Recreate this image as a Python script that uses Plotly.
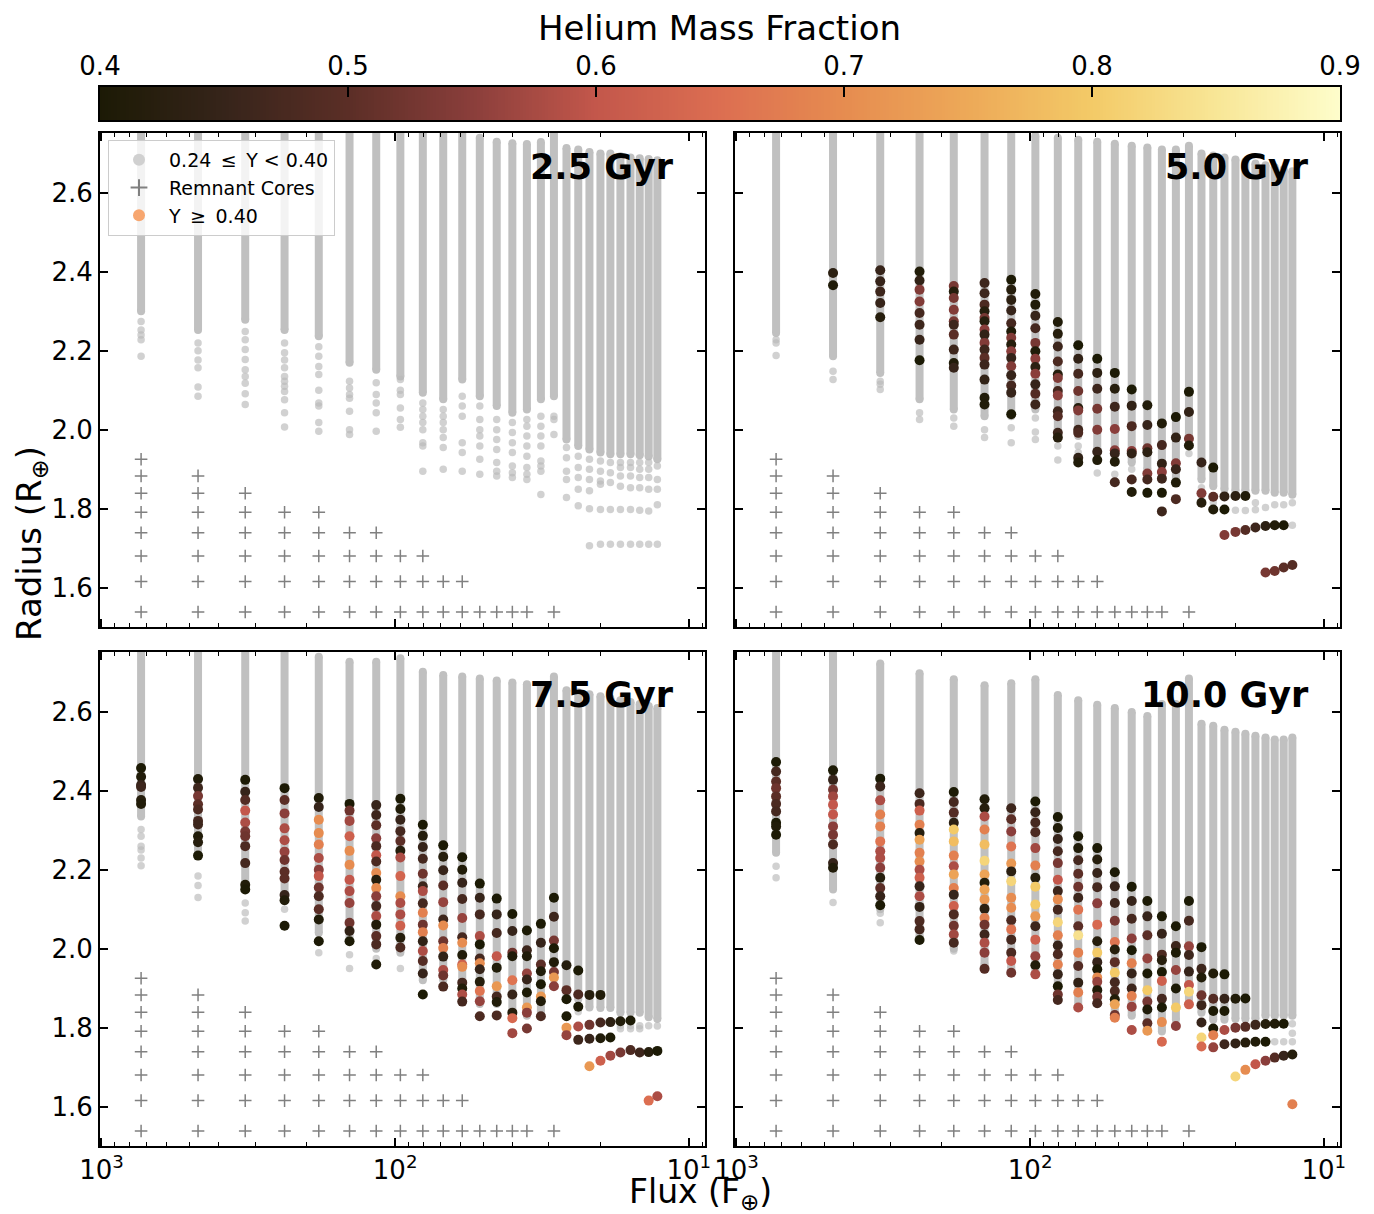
import numpy as np
import plotly.graph_objects as go

W, H = 1374, 1214
FONT = "DejaVu Sans"
OFF = 8  # page offset of the plot div inside the browser window


def PX(p):
    return (p - OFF) / W


def PY(p):
    return 1 - (p - OFF) / H


# ---------------- data ----------------
flux = [733, 469, 324, 238, 182, 143, 116, 96.0, 80.5, 68.6, 59.1, 51.5, 45.1, 39.9,
        35.6, 31.9, 28.8, 26.1, 23.8, 21.8, 20.0, 18.5, 17.1, 15.8, 14.7, 13.7, 12.8]

ages = ["2.5 Gyr", "5.0 Gyr", "7.5 Gyr", "10.0 Gyr"]

# grey (0.24 <= Y < 0.40) model columns: top / bottom of dense run, plus sparse points below
grey_top_25 = [2.8] * 11 + [2.74, 2.73, 2.726, 2.724, 2.729, 2.8, 2.714, 2.71, 2.704, 2.70, 2.70,
                            2.693, 2.69, 2.688, 2.686, 2.683]
grey_bot_25 = [2.30, 2.253, 2.279, 2.253, 2.237, 2.17, 2.152, 2.135, 2.094, 2.077, 2.127, 2.085,
               2.06, 2.043, 2.051, 2.077, 2.085, 1.975, 1.959, 1.95, 1.942, 1.938, 1.938, 1.938,
               1.935, 1.932, 1.925]
grey_sparse_25 = [
    [2.274, 2.253, 2.24, 2.228, 2.186],
    [2.22, 2.20, 2.177, 2.157, 2.108, 2.085],
    [2.249, 2.228, 2.203, 2.178, 2.152, 2.135, 2.118, 2.091, 2.064],
    [2.22, 2.195, 2.177, 2.157, 2.135, 2.123, 2.11, 2.097, 2.076, 2.043, 2.007],
    [2.21, 2.186, 2.16, 2.14, 2.10, 2.068, 2.06, 2.018, 1.996],
    [2.123, 2.106, 2.089, 2.08, 2.047, 2.0, 1.988],
    [2.119, 2.089, 2.068, 2.043, 1.996],
    [2.127, 2.10, 2.089, 2.055, 2.026, 2.006],
    [2.068, 2.051, 2.034, 2.018, 2.0, 1.967, 1.959, 1.895],
    [2.051, 2.034, 2.018, 2.0, 1.98, 1.955, 1.90],
    [2.085, 2.06, 2.034, 1.967, 1.942, 1.895],
    [2.06, 2.026, 2.0, 1.984, 1.959, 1.925, 1.887],
    [2.026, 2.0, 1.975, 1.95, 1.917, 1.895, 1.883],
    [2.018, 1.993, 1.967, 1.942, 1.908, 1.891, 1.879],
    [2.026, 2.009, 1.984, 1.959, 1.933, 1.904, 1.887, 1.874],
    [2.034, 2.009, 1.984, 1.959, 1.921, 1.908, 1.895, 1.836],
    [2.034, 2.026, 1.988],
    [1.955, 1.929, 1.895, 1.874, 1.828],
    [1.933, 1.904, 1.879, 1.849, 1.807],
    [1.925, 1.90, 1.874, 1.845, 1.80, 1.706],
    [1.921, 1.895, 1.87, 1.862, 1.798, 1.71],
    [1.917, 1.891, 1.866, 1.798, 1.71],
    [1.917, 1.904, 1.883, 1.857, 1.798, 1.71],
    [1.917, 1.904, 1.883, 1.853, 1.798, 1.71],
    [1.917, 1.90, 1.879, 1.853, 1.796, 1.71],
    [1.917, 1.90, 1.879, 1.849, 1.794, 1.71],
    [1.908, 1.874, 1.849, 1.81, 1.71],
]

grey_top_50 = [2.8] * 7 + [2.745, 2.74, 2.735, 2.73, 2.725, 2.72, 2.715, 2.71, 2.71, 2.72, 2.70,
                           2.695, 2.69, 2.685, 2.68, 2.675, 2.67, 2.665, 2.66, 2.655]
grey_bot_50 = [2.245, 2.186, 2.144, 2.077, 2.051, 2.034, 2.034, 2.051, 2.0, 1.984, 1.95, 1.933,
               1.917, 1.90, 1.883, 1.87, 1.984, 1.874, 1.857, 1.849, 1.845, 1.845, 1.845, 1.845,
               1.84, 1.84, 1.835]
grey_sparse_50 = [
    [2.228, 2.22, 2.188], [2.148, 2.127], [2.123, 2.115, 2.102], [2.043, 2.026], [2.03, 2.009],
    [2.0, 1.98], [2.005, 1.967], [2.03, 1.994, 1.975], [1.959, 1.923], [1.959, 1.942], [1.89],
    [1.887], [1.90], [], [], [], [1.96, 1.94], [1.853, 1.832], [1.815], [], [1.796], [1.795],
    [1.815, 1.797], [1.803], [1.81], [1.81], [1.815, 1.758],
]

grey_top_75 = [2.8] * 4 + [2.74, 2.727, 2.727, 2.736, 2.702, 2.694, 2.69, 2.685, 2.68, 2.675,
                           2.67, 2.665, 2.69, 2.655, 2.65, 2.645, 2.64, 2.635, 2.63, 2.625, 2.62,
                           2.615, 2.61]
grey_bot_75 = [2.335, 2.236, 2.15, 2.12, 2.04, 2.02, 2.0, 1.99, 1.92, 1.92, 1.89, 1.86, 1.86,
               1.84, 1.83, 1.84, 1.96, 1.872, 1.872, 1.851, 1.85, 1.85, 1.838, 1.838, 1.838,
               1.826, 1.822]
grey_sparse_75 = [
    [2.302, 2.285, 2.26, 2.25, 2.23, 2.21], [2.184, 2.16, 2.13], [2.116, 2.091, 2.07], [2.1],
    [1.99], [1.985, 1.95], [1.975], [1.95], [], [], [], [], [], [], [], [], [1.94, 1.92], [],
    [1.84], [], [], [], [1.805, 1.797], [1.805, 1.797], [1.805, 1.797], [1.805], [1.804],
]

grey_top_100 = [2.8, 2.8, 2.723, 2.698, 2.683, 2.668, 2.673, 2.683, 2.643, 2.63, 2.618, 2.61,
                2.60, 2.59, 2.62, 2.62, 2.685, 2.57, 2.565, 2.555, 2.55, 2.545, 2.54, 2.535,
                2.53, 2.53, 2.535]
grey_bot_100 = [2.243, 2.15, 2.10, 2.03, 2.0, 1.96, 1.95, 1.94, 1.87, 1.85, 1.86, 1.83, 1.83,
                1.80, 1.79, 1.82, 1.87, 1.838, 1.82, 1.82, 1.822, 1.822, 1.822, 1.83, 1.83, 1.83,
                1.83]
grey_sparse_100 = [
    [2.209, 2.18], [2.117], [2.09, 2.066], [], [1.994], [], [], [], [], [], [], [], [], [], [],
    [], [], [], [], [], [], [], [], [], [1.764], [1.764], [1.81, 1.786, 1.764],
]

# helium-enhanced (Y >= 0.40) models: column number -> (radius, Y)
he_50 = {
    2: [(2.397, 0.43), (2.366, 0.41)],
    3: [(2.404, 0.45), (2.376, 0.45), (2.35, 0.46), (2.321, 0.45), (2.285, 0.42)],
    4: [(2.401, 0.41), (2.378, 0.44), (2.355, 0.54), (2.325, 0.54), (2.296, 0.47), (2.266, 0.46),
        (2.228, 0.45), (2.176, 0.40)],
    5: [(2.364, 0.53), (2.35, 0.42), (2.334, 0.53), (2.304, 0.54), (2.275, 0.53), (2.266, 0.46),
        (2.241, 0.5), (2.203, 0.46), (2.169, 0.41), (2.157, 0.45)],
    6: [(2.372, 0.46), (2.346, 0.46), (2.317, 0.48), (2.30, 0.42), (2.283, 0.53), (2.275, 0.42),
        (2.254, 0.55), (2.241, 0.44), (2.22, 0.54), (2.203, 0.46), (2.182, 0.5), (2.165, 0.46),
        (2.127, 0.44), (2.081, 0.41), (2.064, 0.41)],
    7: [(2.38, 0.40), (2.355, 0.42), (2.329, 0.43), (2.302, 0.45), (2.27, 0.47), (2.249, 0.41),
        (2.233, 0.54), (2.216, 0.42), (2.199, 0.55), (2.182, 0.45), (2.161, 0.54), (2.138, 0.45),
        (2.112, 0.47), (2.094, 0.45), (2.039, 0.40)],
    8: [(2.344, 0.41), (2.317, 0.41), (2.289, 0.45), (2.257, 0.47), (2.22, 0.53), (2.199, 0.41),
        (2.18, 0.55), (2.159, 0.43), (2.142, 0.55), (2.115, 0.45), (2.091, 0.49), (2.064, 0.46)],
    9: [(2.273, 0.41), (2.243, 0.42), (2.211, 0.46), (2.173, 0.48), (2.14, 0.42), (2.131, 0.54),
        (2.098, 0.47), (2.087, 0.55), (2.047, 0.46), (2.034, 0.49), (1.992, 0.46), (1.98, 0.42)],
    10: [(2.214, 0.40), (2.18, 0.44), (2.142, 0.47), (2.098, 0.52), (2.055, 0.42), (2.049, 0.54),
         (2.0, 0.46), (1.992, 0.48), (1.929, 0.44), (1.917, 0.41)],
    11: [(2.18, 0.40), (2.144, 0.43), (2.104, 0.46), (2.053, 0.53), (2.0, 0.54), (1.944, 0.45),
         (1.923, 0.41)],
    12: [(2.144, 0.40), (2.104, 0.42), (2.058, 0.46), (2.002, 0.55), (1.948, 0.55), (1.94, 0.45),
         (1.919, 0.41), (1.867, 0.47)],
    13: [(2.102, 0.40), (2.061, 0.44), (2.009, 0.48), (1.946, 0.55), (1.94, 0.44), (1.874, 0.47),
         (1.842, 0.41)],
    14: [(2.062, 0.41), (2.012, 0.45), (1.953, 0.52), (1.943, 0.43), (1.889, 0.54), (1.874, 0.47),
         (1.84, 0.40)],
    15: [(2.016, 0.41), (1.961, 0.47), (1.914, 0.44), (1.893, 0.55), (1.876, 0.46), (1.84, 0.40),
         (1.793, 0.46)],
    16: [(2.032, 0.40), (1.98, 0.44), (1.915, 0.54), (1.90, 0.45), (1.866, 0.41), (1.824, 0.48)],
    17: [(2.096, 0.40), (2.045, 0.44), (1.977, 0.53), (1.96, 0.41)],
    18: [(1.917, 0.45), (1.839, 0.54), (1.815, 0.42)],
    19: [(1.904, 0.40), (1.83, 0.50), (1.798, 0.41)],
    20: [(1.831, 0.44), (1.798, 0.40), (1.733, 0.54)],
    21: [(1.832, 0.43), (1.741, 0.53)],
    22: [(1.832, 0.41), (1.746, 0.49)],
    23: [(1.752, 0.46)],
    24: [(1.756, 0.43), (1.638, 0.53)],
    25: [(1.758, 0.41), (1.642, 0.52)],
    26: [(1.758, 0.40), (1.651, 0.50)],
    27: [(1.657, 0.49)],
}

he_75 = {
    1: [(2.458, 0.40), (2.436, 0.41), (2.415, 0.45), (2.41, 0.46), (2.377, 0.42), (2.367, 0.41)],
    2: [(2.43, 0.41), (2.408, 0.46), (2.387, 0.53), (2.366, 0.50), (2.353, 0.48), (2.324, 0.47),
        (2.315, 0.46), (2.285, 0.41), (2.27, 0.42), (2.236, 0.40)],
    3: [(2.428, 0.40), (2.398, 0.45), (2.377, 0.49), (2.35, 0.60), (2.32, 0.58), (2.297, 0.53),
        (2.285, 0.52), (2.26, 0.48), (2.217, 0.47), (2.162, 0.41), (2.15, 0.40)],
    4: [(2.407, 0.40), (2.377, 0.50), (2.343, 0.55), (2.305, 0.58), (2.275, 0.58), (2.246, 0.56),
        (2.225, 0.52), (2.195, 0.50), (2.178, 0.50), (2.136, 0.45), (2.123, 0.41), (2.058, 0.40)],
    5: [(2.382, 0.41), (2.359, 0.45), (2.327, 0.70), (2.293, 0.70), (2.264, 0.68), (2.23, 0.58),
        (2.20, 0.55), (2.184, 0.60), (2.155, 0.52), (2.133, 0.48), (2.10, 0.50), (2.074, 0.41),
        (2.019, 0.40)],
    6: [(2.367, 0.40), (2.35, 0.52), (2.324, 0.57), (2.285, 0.62), (2.248, 0.70), (2.213, 0.70),
        (2.175, 0.60), (2.146, 0.58), (2.116, 0.56), (2.066, 0.52), (2.045, 0.44), (2.019, 0.40)],
    7: [(2.364, 0.45), (2.339, 0.46), (2.313, 0.50), (2.28, 0.55), (2.26, 0.48), (2.237, 0.60),
        (2.221, 0.48), (2.192, 0.70), (2.175, 0.42), (2.154, 0.70), (2.133, 0.55), (2.108, 0.47),
        (2.083, 0.58), (2.061, 0.41), (2.032, 0.50), (2.011, 0.48), (1.96, 0.41)],
    8: [(2.38, 0.40), (2.354, 0.41), (2.327, 0.45), (2.298, 0.47), (2.273, 0.50), (2.248, 0.42),
        (2.231, 0.58), (2.184, 0.63), (2.133, 0.70), (2.116, 0.58), (2.087, 0.58), (2.058, 0.62),
        (2.028, 0.42), (2.003, 0.48)],
    9: [(2.314, 0.40), (2.286, 0.42), (2.258, 0.45), (2.228, 0.47), (2.19, 0.52), (2.158, 0.46),
        (2.146, 0.58), (2.115, 0.47), (2.091, 0.68), (2.061, 0.52), (2.042, 0.68), (2.019, 0.44),
        (1.994, 0.58), (1.969, 0.49), (1.937, 0.45), (1.884, 0.40)],
    10: [(2.262, 0.40), (2.233, 0.42), (2.199, 0.45), (2.16, 0.50), (2.118, 0.56), (2.074, 0.46),
         (2.059, 0.70), (2.019, 0.52), (2.002, 0.68), (1.98, 0.44), (1.946, 0.58), (1.932, 0.52),
         (1.904, 0.48)],
    11: [(2.232, 0.40), (2.2, 0.41), (2.167, 0.45), (2.126, 0.47), (2.078, 0.56), (2.029, 0.47),
         (2.015, 0.70), (1.984, 0.41), (1.96, 0.62), (1.954, 0.70), (1.914, 0.47), (1.899, 0.41),
         (1.884, 0.58), (1.866, 0.47)],
    12: [(2.165, 0.40), (2.129, 0.45), (2.087, 0.47), (2.032, 0.58), (2.011, 0.40), (1.975, 0.47),
         (1.963, 0.70), (1.948, 0.45), (1.916, 0.42), (1.893, 0.66), (1.867, 0.56), (1.829, 0.48)],
    13: [(2.127, 0.40), (2.087, 0.45), (2.04, 0.47), (1.981, 0.60), (1.952, 0.41), (1.905, 0.72),
         (1.879, 0.47), (1.865, 0.41), (1.831, 0.48)],
    14: [(2.088, 0.40), (2.045, 0.45), (1.99, 0.52), (1.981, 0.41), (1.92, 0.66), (1.884, 0.45),
         (1.838, 0.42), (1.824, 0.64), (1.786, 0.57)],
    15: [(2.046, 0.40), (1.996, 0.46), (1.981, 0.41), (1.937, 0.56), (1.922, 0.45), (1.889, 0.40),
         (1.851, 0.72), (1.838, 0.55), (1.798, 0.53)],
    16: [(2.063, 0.40), (2.015, 0.45), (1.96, 0.50), (1.943, 0.41), (1.91, 0.40), (1.879, 0.72),
         (1.867, 0.41), (1.829, 0.48)],
    17: [(2.129, 0.40), (2.081, 0.46), (2.021, 0.53), (2.001, 0.40), (1.966, 0.41), (1.941, 0.53),
         (1.927, 0.72), (1.905, 0.55)],
    18: [(1.958, 0.42), (1.895, 0.50), (1.872, 0.40), (1.829, 0.40), (1.80, 0.72), (1.781, 0.56)],
    19: [(1.945, 0.40), (1.884, 0.48), (1.853, 0.40), (1.803, 0.58), (1.769, 0.46)],
    20: [(1.883, 0.42), (1.807, 0.52), (1.772, 0.45), (1.702, 0.72)],
    21: [(1.883, 0.41), (1.813, 0.47), (1.773, 0.41), (1.716, 0.62)],
    22: [(1.814, 0.43), (1.775, 0.40), (1.729, 0.57)],
    23: [(1.816, 0.41), (1.737, 0.53)],
    24: [(1.818, 0.40), (1.743, 0.48)],
    25: [(1.737, 0.46)],
    26: [(1.738, 0.42), (1.615, 0.65)],
    27: [(1.741, 0.40), (1.626, 0.58)],
}

he_100 = {
    1: [(2.473, 0.40), (2.449, 0.47), (2.424, 0.50), (2.407, 0.52), (2.386, 0.50), (2.367, 0.48),
        (2.348, 0.47), (2.319, 0.40), (2.31, 0.41), (2.289, 0.40)],
    2: [(2.452, 0.40), (2.428, 0.45), (2.403, 0.53), (2.386, 0.57), (2.365, 0.60), (2.34, 0.60),
        (2.31, 0.55), (2.289, 0.53), (2.264, 0.48), (2.217, 0.45), (2.205, 0.41)],
    3: [(2.431, 0.40), (2.411, 0.46), (2.376, 0.58), (2.34, 0.68), (2.31, 0.68), (2.272, 0.66),
        (2.247, 0.58), (2.23, 0.58), (2.205, 0.55), (2.18, 0.42), (2.154, 0.50), (2.133, 0.45),
        (2.11, 0.40)],
    4: [(2.394, 0.46), (2.367, 0.48), (2.35, 0.62), (2.314, 0.68), (2.293, 0.42), (2.276, 0.74),
        (2.243, 0.68), (2.221, 0.70), (2.2, 0.58), (2.18, 0.62), (2.158, 0.45), (2.133, 0.58),
        (2.106, 0.44), (2.07, 0.48), (2.049, 0.47), (2.022, 0.40)],
    5: [(2.397, 0.40), (2.372, 0.47), (2.345, 0.49), (2.319, 0.43), (2.302, 0.80), (2.272, 0.78),
        (2.236, 0.68), (2.209, 0.58), (2.188, 0.74), (2.154, 0.68), (2.137, 0.45), (2.108, 0.62),
        (2.087, 0.48), (2.058, 0.52), (2.036, 0.57), (2.015, 0.47)],
    6: [(2.379, 0.41), (2.356, 0.42), (2.335, 0.58), (2.302, 0.68), (2.264, 0.78), (2.223, 0.82),
        (2.188, 0.74), (2.167, 0.41), (2.15, 0.74), (2.125, 0.72), (2.101, 0.43), (2.078, 0.68),
        (2.061, 0.52), (2.036, 0.46), (2.015, 0.58), (1.99, 0.55), (1.949, 0.49)],
    7: [(2.356, 0.46), (2.328, 0.50), (2.297, 0.55), (2.259, 0.66), (2.216, 0.72), (2.196, 0.43),
        (2.171, 0.82), (2.129, 0.70), (2.104, 0.70), (2.072, 0.48), (2.049, 0.66), (2.023, 0.47),
        (1.99, 0.48), (1.969, 0.60), (1.939, 0.52)],
    8: [(2.373, 0.40), (2.346, 0.45), (2.32, 0.47), (2.295, 0.48), (2.255, 0.57), (2.211, 0.68),
        (2.18, 0.42), (2.157, 0.80), (2.112, 0.80), (2.082, 0.72), (2.057, 0.46), (2.023, 0.62),
        (1.981, 0.56), (1.958, 0.41), (1.935, 0.58)],
    9: [(2.334, 0.40), (2.306, 0.41), (2.278, 0.45), (2.247, 0.47), (2.217, 0.53), (2.175, 0.60),
        (2.146, 0.46), (2.125, 0.70), (2.099, 0.47), (2.067, 0.82), (2.034, 0.68), (2.008, 0.45),
        (1.986, 0.48), (1.96, 0.68), (1.935, 0.45), (1.905, 0.40), (1.884, 0.52), (1.87, 0.47)],
    10: [(2.285, 0.40), (2.255, 0.41), (2.224, 0.47), (2.19, 0.50), (2.157, 0.52), (2.129, 0.46),
         (2.099, 0.66), (2.057, 0.50), (2.034, 0.84), (1.99, 0.68), (1.956, 0.49), (1.914, 0.44),
         (1.889, 0.68), (1.851, 0.58)],
    11: [(2.255, 0.40), (2.226, 0.42), (2.192, 0.45), (2.156, 0.47), (2.115, 0.55), (2.061, 0.64),
         (2.019, 0.42), (1.99, 0.80), (1.966, 0.45), (1.948, 0.40), (1.927, 0.70), (1.916, 0.56),
         (1.895, 0.41), (1.878, 0.53), (1.862, 0.47)],
    12: [(2.194, 0.40), (2.158, 0.45), (2.116, 0.46), (2.071, 0.53), (2.017, 0.66), (1.998, 0.42),
         (1.966, 0.50), (1.939, 0.80), (1.915, 0.47), (1.893, 0.48), (1.872, 0.41), (1.859, 0.74),
         (1.832, 0.52), (1.825, 0.68)],
    13: [(2.157, 0.40), (2.121, 0.45), (2.076, 0.47), (2.026, 0.55), (1.996, 0.40), (1.963, 0.68),
         (1.937, 0.45), (1.899, 0.46), (1.88, 0.68), (1.853, 0.56), (1.794, 0.58)],
    14: [(2.121, 0.40), (2.082, 0.45), (2.034, 0.50), (1.975, 0.56), (1.937, 0.40), (1.895, 0.80),
         (1.866, 0.53), (1.846, 0.41), (1.811, 0.50), (1.792, 0.72)],
    15: [(2.082, 0.40), (2.038, 0.45), (1.985, 0.48), (1.971, 0.42), (1.941, 0.40), (1.918, 0.62),
         (1.873, 0.47), (1.851, 0.40), (1.814, 0.70), (1.764, 0.64)],
    16: [(2.057, 0.40), (2.007, 0.46), (1.99, 0.40), (1.946, 0.56), (1.899, 0.40), (1.851, 0.80),
         (1.804, 0.55)],
    17: [(2.121, 0.40), (2.071, 0.47), (2.006, 0.56), (1.984, 0.46), (1.942, 0.45), (1.908, 0.60),
         (1.891, 0.82), (1.859, 0.62)],
    18: [(2.004, 0.40), (1.949, 0.46), (1.927, 0.41), (1.882, 0.52), (1.857, 0.46), (1.813, 0.45),
         (1.775, 0.82), (1.752, 0.64)],
    19: [(1.937, 0.41), (1.873, 0.49), (1.842, 0.40), (1.798, 0.40), (1.781, 0.68), (1.75, 0.56)],
    20: [(1.935, 0.40), (1.873, 0.45), (1.842, 0.40), (1.794, 0.58), (1.758, 0.46)],
    21: [(1.873, 0.41), (1.80, 0.53), (1.76, 0.44), (1.676, 0.82)],
    22: [(1.874, 0.40), (1.802, 0.49), (1.762, 0.42), (1.693, 0.70)],
    23: [(1.807, 0.46), (1.764, 0.41), (1.707, 0.60)],
    24: [(1.809, 0.42), (1.764, 0.40), (1.716, 0.55)],
    25: [(1.81, 0.41), (1.724, 0.49)],
    26: [(1.81, 0.40), (1.729, 0.45)],
    27: [(1.732, 0.42), (1.606, 0.68)],
}

# remnant cores: radius rows and which flux columns they occupy
core_radius = [1.538, 1.615, 1.68, 1.739, 1.791, 1.839, 1.883, 1.925]
core_columns = [list(range(1, 16)) + [17], list(range(1, 12)), list(range(1, 10)),
                list(range(1, 8)), list(range(1, 6)), list(range(1, 4)), [1, 2], [1]]

cbar_ticks = [0.4, 0.5, 0.6, 0.7, 0.8, 0.9]
x_ticks = [1000, 100, 10]
x_ticktext = ["10<sup>3</sup>", "10<sup>2</sup>", "10<sup>1</sup>"]
y_ticks = [1.6, 1.8, 2.0, 2.2, 2.4, 2.6]

he_scale = [[0.0, "#1c1a05"], [0.1, "#36241a"], [0.2, "#5b2e26"], [0.3, "#8a3e3b"],
            [0.4, "#c3574b"], [0.5, "#dc6e51"], [0.6, "#e68c50"], [0.7, "#eda958"],
            [0.8, "#f3ca67"], [0.9, "#f8e696"], [1.0, "#fefdcb"]]

# ---------------- figure ----------------
panels = [
    (grey_top_25, grey_bot_25, grey_sparse_25, {}),
    (grey_top_50, grey_bot_50, grey_sparse_50, he_50),
    (grey_top_75, grey_bot_75, grey_sparse_75, he_75),
    (grey_top_100, grey_bot_100, grey_sparse_100, he_100),
]
panel_px = [(100, 705, 133, 627), (735, 1340, 133, 627),
            (100, 705, 652, 1146), (735, 1340, 652, 1146)]

GREY_DENSE = "#c0c0c0"
GREY_SPARSE = "rgba(185,185,185,0.65)"
CORE = "#808080"

fig = go.Figure()
layout = {}
minor_vals = [v * 10 ** k for k in (0, 1, 2) for v in range(2, 10)]

for i, ((gtop, gbot, gsparse, he), (x0, x1, y0, y1)) in enumerate(zip(panels, panel_px)):
    n = i + 1
    xr = "x" if n == 1 else f"x{n}"
    yr = "y" if n == 1 else f"y{n}"

    # dense grey columns
    lx, ly = [], []
    for f, b, t in zip(flux, gbot, gtop):
        lx += [f, f, None]
        ly += [b, t, None]
    fig.add_trace(go.Scatter(x=lx, y=ly, mode="lines+markers", xaxis=xr, yaxis=yr,
                             line=dict(color=GREY_DENSE, width=8),
                             marker=dict(color=GREY_DENSE, size=8),
                             showlegend=False, hoverinfo="skip"))
    # sparse grey points
    sx, sy = [], []
    for f, pts in zip(flux, gsparse):
        for r in pts:
            sx.append(f)
            sy.append(r)
    fig.add_trace(go.Scatter(x=sx, y=sy, mode="markers", xaxis=xr, yaxis=yr,
                             marker=dict(color=GREY_SPARSE, size=7.5),
                             showlegend=False, hoverinfo="skip"))
    # remnant cores
    cx, cy = [], []
    for r, cols in zip(core_radius, core_columns):
        for c in cols:
            cx.append(flux[c - 1])
            cy.append(r)
    fig.add_trace(go.Scatter(x=cx, y=cy, mode="markers", xaxis=xr, yaxis=yr,
                             marker=dict(symbol="cross-thin", size=9,
                                         line=dict(color=CORE, width=1.5)),
                             showlegend=False, hoverinfo="skip"))
    # helium enhanced
    if he:
        hx, hy, hc = [], [], []
        for c, pts in he.items():
            for r, yv in pts:
                hx.append(flux[c - 1])
                hy.append(r)
                hc.append(yv)
        fig.add_trace(go.Scatter(x=hx, y=hy, mode="markers", xaxis=xr, yaxis=yr,
                                 marker=dict(color=hc, colorscale=he_scale, cmin=0.4, cmax=0.9,
                                             size=10, line=dict(width=0), showscale=False),
                                 showlegend=False))

    axkey = "xaxis" if n == 1 else f"xaxis{n}"
    aykey = "yaxis" if n == 1 else f"yaxis{n}"
    layout[axkey] = dict(
        domain=[PX(x0), PX(x1)], anchor=yr, type="log", range=[3.005, 0.945],
        tickvals=x_ticks, ticktext=x_ticktext, showticklabels=(n >= 3),
        ticks="inside", ticklen=8, tickwidth=1.5, tickcolor="black",
        minor=dict(ticks="inside", ticklen=4, tickwidth=1, tickcolor="black",
                   tickvals=minor_vals),
        showline=True, linecolor="black", linewidth=2, mirror="ticks",
        showgrid=False, zeroline=False, automargin=False,
        tickfont=dict(family=FONT, size=26, color="black"))
    layout[aykey] = dict(
        domain=[PY(y1), PY(y0)], anchor=xr, range=[1.5, 2.752],
        tickvals=y_ticks, ticktext=[f"{v:.1f}" for v in y_ticks],
        showticklabels=(n in (1, 3)),
        ticks="inside", ticklen=8, tickwidth=1.5, tickcolor="black",
        showline=True, linecolor="black", linewidth=2, mirror="ticks",
        showgrid=False, zeroline=False, automargin=False,
        tickfont=dict(family=FONT, size=26, color="black"))

# legend-only traces
fig.add_trace(go.Scatter(x=[None], y=[None], mode="markers",
                         name="0.24\u2002\u2264\u2002Y < 0.40",
                         marker=dict(color="#d0d0d0", size=9)))
fig.add_trace(go.Scatter(x=[None], y=[None], mode="markers", name="Remnant Cores",
                         marker=dict(symbol="cross-thin", size=9, line=dict(color=CORE, width=1.5))))
fig.add_trace(go.Scatter(x=[None], y=[None], mode="markers", name="Y\u2002\u2265\u20020.40",
                         marker=dict(color="#f7a66f", size=9)))

# colour bar drawn as a heatmap strip
cb_x = list(np.linspace(0.4, 0.9, 401))
fig.add_trace(go.Heatmap(x=cb_x, y=[0, 1], z=[cb_x, cb_x], colorscale=he_scale,
                         zmin=0.4, zmax=0.9, showscale=False, xaxis="x5", yaxis="y5",
                         hoverinfo="skip"))
layout["xaxis5"] = dict(domain=[PX(100), PX(1340)], anchor="y5", range=[0.4, 0.9], side="top",
                        tickvals=cbar_ticks, ticktext=[f"{v:.1f}" for v in cbar_ticks],
                        ticks="inside", ticklen=10, tickwidth=1.5, tickcolor="black",
                        showline=True, linecolor="black", linewidth=2, mirror=True,
                        showgrid=False, zeroline=False, automargin=False,
                        tickfont=dict(family=FONT, size=26, color="black"))
layout["yaxis5"] = dict(domain=[PY(120), PY(87)], anchor="x5", range=[0, 1],
                        showticklabels=False, ticks="", showline=True, linecolor="black",
                        linewidth=2, mirror=True, showgrid=False, zeroline=False,
                        automargin=False)

annotations = []
label_y = [167, 167, 695, 695]
for (x0, x1, y0, y1), lab, ly_ in zip(panel_px, ages, label_y):
    annotations.append(dict(text=f"<b>{lab}</b>", x=PX(x1 - 29), y=PY(ly_),
                            xref="paper", yref="paper", xanchor="right", yanchor="middle",
                            showarrow=False, font=dict(family=FONT, size=35, color="black")))
annotations.append(dict(text="Helium Mass Fraction", x=PX(720), y=PY(28), xref="paper",
                        yref="paper", xanchor="center", yanchor="middle", showarrow=False,
                        font=dict(family=FONT, size=34, color="black")))
annotations.append(dict(text="Radius (R<sub>\u2295</sub>)", x=PX(31), y=PY(544),
                        xref="paper", yref="paper", xanchor="center", yanchor="middle",
                        textangle=-90, showarrow=False,
                        font=dict(family=FONT, size=34, color="black")))
annotations.append(dict(text="Flux (F<sub>\u2295</sub>)", x=PX(700), y=PY(1193),
                        xref="paper", yref="paper", xanchor="center", yanchor="middle",
                        showarrow=False, font=dict(family=FONT, size=33, color="black")))

fig.update_layout(
    width=W, height=H, autosize=False,
    margin=dict(l=0, r=0, t=0, b=0, pad=0, autoexpand=False),
    paper_bgcolor="white", plot_bgcolor="white",
    font=dict(family=FONT, color="black"),
    showlegend=True,
    legend=dict(x=PX(108), y=PY(140), xanchor="left", yanchor="top",
                bgcolor="rgba(255,255,255,0.8)", bordercolor="#cccccc", borderwidth=1,
                font=dict(family=FONT, size=19, color="black"), itemsizing="constant",
                itemwidth=50, tracegroupgap=0),
    annotations=annotations,
    **layout,
)

fig.write_html("out.html")
